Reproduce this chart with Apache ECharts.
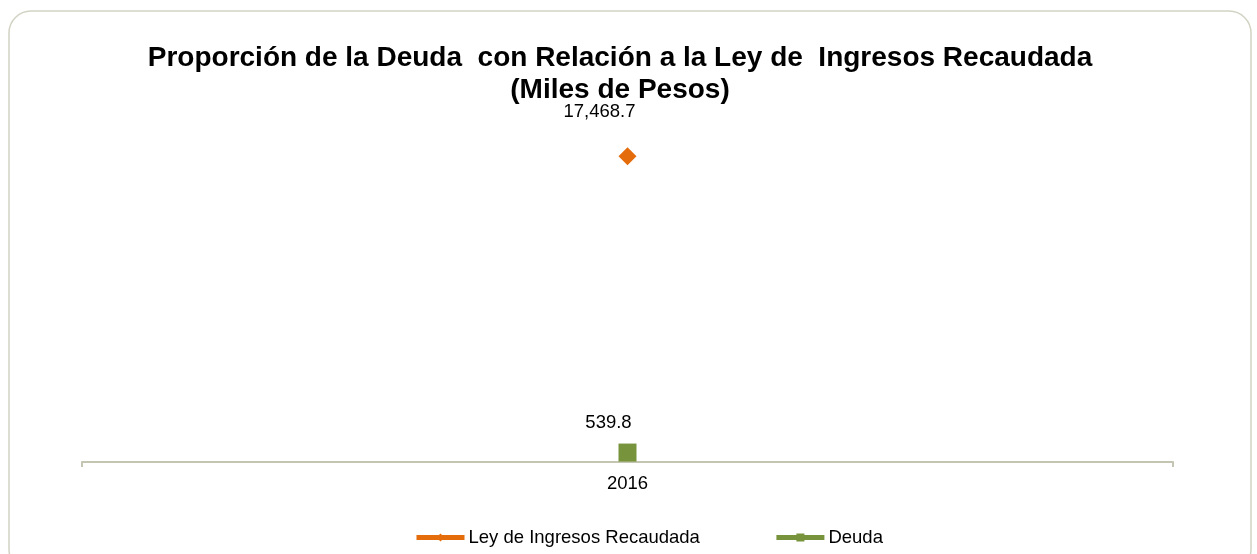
<!DOCTYPE html>
<html><head><meta charset="utf-8">
<script src="https://cdn.jsdelivr.net/npm/echarts@6/dist/echarts.min.js"></script>
<style>html,body{margin:0;padding:0;background:#fff}#c{width:1257px;height:554px}</style>
</head><body><div id="c"></div>
<script>
const categories = ['2016'];
const leyIngresos = [17468.7];
const deuda = [539.8];
const seriesNames = ['Ley de Ingresos Recaudada', 'Deuda'];

const chart = echarts.init(document.getElementById('c'), null, {renderer: 'canvas'});
const fmt = v => v.toLocaleString('en-US', {minimumFractionDigits: 1, maximumFractionDigits: 1});
const font = 'Liberation Sans, Arial, sans-serif';
chart.setOption({
  animation: false,
  backgroundColor: '#fff',
  graphic: [{
    type: 'rect', shape: {x: 9, y: 11, width: 1242, height: 560, r: 22},
    style: {fill: 'none', stroke: '#d2d3c4', lineWidth: 1.5}, z: -1
  }],
  title: {
    text: 'Proporción de la Deuda  con Relación a la Ley de  Ingresos Recaudada\n(Miles de Pesos)',
    left: 615, top: 37, textAlign: 'center',
    textStyle: {fontFamily: font, fontSize: 28, fontWeight: 'bold', color: '#000', lineHeight: 32}
  },
  legend: {
    top: 523, left: 409, itemGap: 74, itemWidth: 48, itemHeight: 10,
    lineStyle: {width: 5},
    textStyle: {fontFamily: font, fontSize: 18.5, color: '#000', padding: [0, 0, 0, -1]},
    data: seriesNames
  },
  grid: {left: 82, right: 84, top: 112, bottom: 92},
  xAxis: {
    type: 'category', data: categories, boundaryGap: true,
    axisLine: {lineStyle: {color: '#c4c5b2', width: 2}},
    axisTick: {show: true, length: 5, lineStyle: {color: '#c4c5b2', width: 2}},
    axisLabel: {fontFamily: font, fontSize: 18.5, color: '#000', margin: 12}
  },
  yAxis: {type: 'value', min: 0, max: 20000, show: false, splitLine: {show: false}},
  series: [{
    name: seriesNames[0], type: 'line', data: leyIngresos,
    symbol: 'diamond', symbolSize: 18,
    itemStyle: {color: '#e46c0a'}, lineStyle: {color: '#e46c0a', width: 5},
    label: {show: true, position: 'top', distance: 26, offset: [-28, 0], formatter: p => fmt(p.value),
      fontFamily: font, fontSize: 18.5, color: '#000'}
  }, {
    name: seriesNames[1], type: 'line', data: deuda,
    symbol: 'rect', symbolSize: 18,
    itemStyle: {color: '#77933c'}, lineStyle: {color: '#77933c', width: 5},
    label: {show: true, position: 'top', distance: 11, offset: [-19, 0], formatter: p => fmt(p.value),
      fontFamily: font, fontSize: 18.5, color: '#000'}
  }]
});
</script></body></html>
